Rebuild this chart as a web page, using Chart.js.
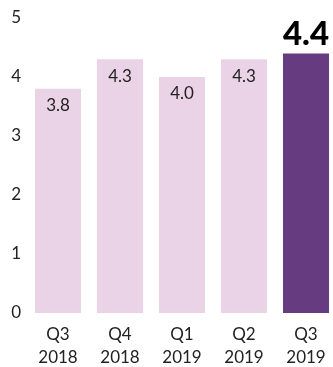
<!DOCTYPE html>
<html><head><meta charset="utf-8">
<script src="https://cdn.jsdelivr.net/npm/chart.js@4"></script>
<style>
html,body{margin:0;padding:0;overflow:hidden;background:#fff;}
#wrap{width:337px;height:367px;position:relative;}
</style></head>
<body><div id="wrap"><canvas id="c"></canvas></div>
<script>
const quarters = ['Q3','Q4','Q1','Q2','Q3'];
const years = ['2018','2018','2019','2019','2019'];
const values = [3.8, 4.3, 4.0, 4.3, 4.4];
const valueLabels = ['3.8','4.3','4.0','4.3','4.4'];
const yTicks = [0,1,2,3,4,5];

const light = '#ead3e6';
const dark = '#663b80';
const FONT = 'Lato, sans-serif';

const labelPlugin = {
  id: 'valueLabels',
  afterDatasetsDraw(chart) {
    const ctx = chart.ctx;
    const meta = chart.getDatasetMeta(0);
    const last = meta.data.length - 1;
    ctx.save();
    ctx.textAlign = 'center';
    meta.data.forEach((bar, i) => {
      if (i === last) {
        ctx.font = '900 33px ' + FONT;
        ctx.fillStyle = '#000';
        ctx.textBaseline = 'alphabetic';
        ctx.fillText(valueLabels[i], bar.x, bar.y - 8);
      } else {
        ctx.font = '17px ' + FONT;
        ctx.fillStyle = '#222';
        ctx.textBaseline = 'middle';
        ctx.fillText(valueLabels[i], bar.x, bar.y + 17);
      }
    });
    ctx.restore();
  }
};

new Chart(document.getElementById('c'), {
  type: 'bar',
  data: {
    labels: quarters.map((q, i) => [q, years[i]]),
    datasets: [{
      data: values,
      backgroundColor: values.map((v, i) => i === values.length - 1 ? dark : light),
      borderWidth: 0,
      categoryPercentage: 1,
      barPercentage: 0.742
    }]
  },
  options: {
    responsive: true,
    maintainAspectRatio: false,
    animation: false,
    layout: { padding: { top: 18, right: 0, bottom: 0, left: 0 } },
    plugins: { legend: { display: false }, tooltip: { enabled: false } },
    scales: {
      x: {
        afterFit(scale) { scale.height = 54; },
        grid: { display: false, drawTicks: false },
        border: { display: false },
        ticks: { color: '#222', font: { family: FONT, size: 17, lineHeight: 1.35 }, padding: 10, maxRotation: 0, autoSkip: false }
      },
      y: {
        min: 0, max: 5,
        afterBuildTicks(scale) { scale.ticks = yTicks.map(v => ({ value: v })); },
        afterFit(scale) { scale.width = 27; },
        grid: { display: false, drawTicks: false },
        border: { display: false },
        ticks: { color: '#222', font: { family: FONT, size: 17 }, padding: 6, align: 'center' }
      }
    }
  },
  plugins: [labelPlugin]
});
</script></body></html>
